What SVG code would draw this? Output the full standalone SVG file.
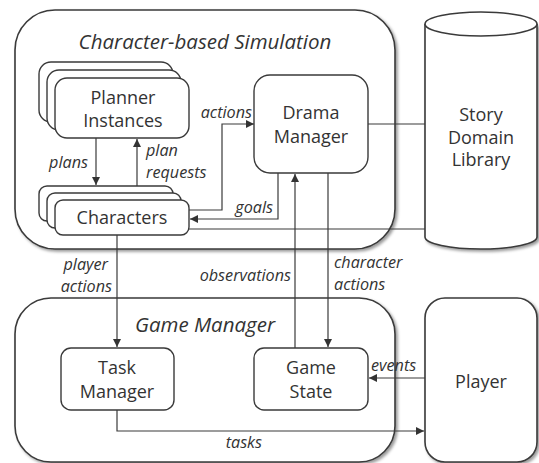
<svg xmlns="http://www.w3.org/2000/svg" width="539" height="463" viewBox="0 0 539 463">
<style>
.box{fill:#fff;stroke:#3a3a3a;stroke-width:1.4}
.big{fill:#fff;stroke:#3a3a3a;stroke-width:1.6}
.ln{fill:none;stroke:#3a3a3a;stroke-width:1.2}
.t{font-family:"Open Sans","DejaVu Sans",sans-serif;font-size:18px;fill:#333;text-anchor:middle}
.ti{font-family:"Open Sans","DejaVu Sans",sans-serif;font-size:20.5px;font-style:italic;fill:#333;text-anchor:middle}
.l{font-family:"Open Sans","DejaVu Sans",sans-serif;font-size:16.2px;font-style:italic;fill:#333}
</style>
<defs>
<marker id="ah" viewBox="0 0 10 10" refX="10" refY="5" markerWidth="8" markerHeight="8" markerUnits="userSpaceOnUse" orient="auto">
<path d="M0,0 L10,5 L0,10 z" fill="#333"/>
</marker>
<filter id="sh" x="-5%" y="-5%" width="115%" height="115%">
<feDropShadow dx="2" dy="2" stdDeviation="1.5" flood-color="#000" flood-opacity="0.4"/>
</filter>
</defs>
<rect width="539" height="463" fill="#fff"/>

<g id="sim">
<rect class="big" x="15" y="10" width="380" height="239" rx="40" filter="url(#sh)"/>
<text class="ti" x="205" y="49">Character-based Simulation</text>
</g>
<g id="gm">
<rect class="big" x="15" y="298" width="380" height="164" rx="36" filter="url(#sh)"/>
<text class="ti" x="205" y="332">Game Manager</text>
</g>
<g id="library">
<path class="big" d="M425,24 L425,237 A56,12 0 0 0 537,237 L537,24" filter="url(#sh)"/>
<ellipse class="big" cx="481" cy="24" rx="56" ry="12"/>
<text class="t" x="481" y="121">Story</text>
<text class="t" x="481" y="144">Domain</text>
<text class="t" x="481" y="166">Library</text>
</g>
<g id="player">
<rect class="big" x="425" y="298" width="112" height="164" rx="20" filter="url(#sh)"/>
<text class="t" x="481" y="388">Player</text>
</g>

<g id="connectors">
<path class="ln" d="M96,138 V185" marker-end="url(#ah)"/>
<path class="ln" d="M137,186 V139" marker-end="url(#ah)"/>
<path class="ln" d="M189,210 H222 V124 H254" marker-end="url(#ah)"/>
<path class="ln" d="M278,173 V219 H190" marker-end="url(#ah)"/>
<path class="ln" d="M368,124 H425"/>
<path class="ln" d="M189,229 H425"/>
<path class="ln" d="M295,348 V174" marker-end="url(#ah)"/>
<path class="ln" d="M328,173 V347" marker-end="url(#ah)"/>
<path class="ln" d="M117,235 V347" marker-end="url(#ah)"/>
<path class="ln" d="M425,378 H369" marker-end="url(#ah)"/>
<path class="ln" d="M117,410 V431 H424" marker-end="url(#ah)"/>
<text class="l" x="88" y="168" text-anchor="end">plans</text>
<text class="l" x="146" y="156">plan</text>
<text class="l" x="146" y="178">requests</text>
<text class="l" x="252" y="118" text-anchor="end">actions</text>
<text class="l" x="273" y="213" text-anchor="end">goals</text>
<text class="l" x="108" y="270" text-anchor="end">player</text>
<text class="l" x="112" y="292" text-anchor="end">actions</text>
<text class="l" x="291" y="281" text-anchor="end">observations</text>
<text class="l" x="334" y="268">character</text>
<text class="l" x="334" y="290">actions</text>
<text class="l" x="371" y="371">events</text>
<text class="l" x="262" y="448" text-anchor="end">tasks</text>
</g>

<g id="planners">
<rect class="box" x="39" y="62" width="134" height="60" rx="12"/>
<rect class="box" x="47" y="70" width="134" height="60" rx="12"/>
<rect class="box" x="55" y="78" width="134" height="60" rx="12"/>
<text class="t" x="123" y="104">Planner</text>
<text class="t" x="123" y="127">Instances</text>
</g>
<g id="characters">
<rect class="box" x="39" y="186" width="134" height="35" rx="8"/>
<rect class="box" x="47" y="193" width="134" height="35" rx="8"/>
<rect class="box" x="55" y="200" width="134" height="35" rx="8"/>
<text class="t" x="122" y="224">Characters</text>
</g>
<g id="drama">
<rect class="box" x="254" y="75" width="114" height="98" rx="16"/>
<text class="t" x="311" y="119">Drama</text>
<text class="t" x="311" y="143">Manager</text>
</g>
<g id="task">
<rect class="box" x="61" y="348" width="113" height="62" rx="10"/>
<text class="t" x="117" y="374">Task</text>
<text class="t" x="117" y="398">Manager</text>
</g>
<g id="state">
<rect class="box" x="254" y="348" width="114" height="62" rx="10"/>
<text class="t" x="311" y="374">Game</text>
<text class="t" x="311" y="398">State</text>
</g>
</svg>
